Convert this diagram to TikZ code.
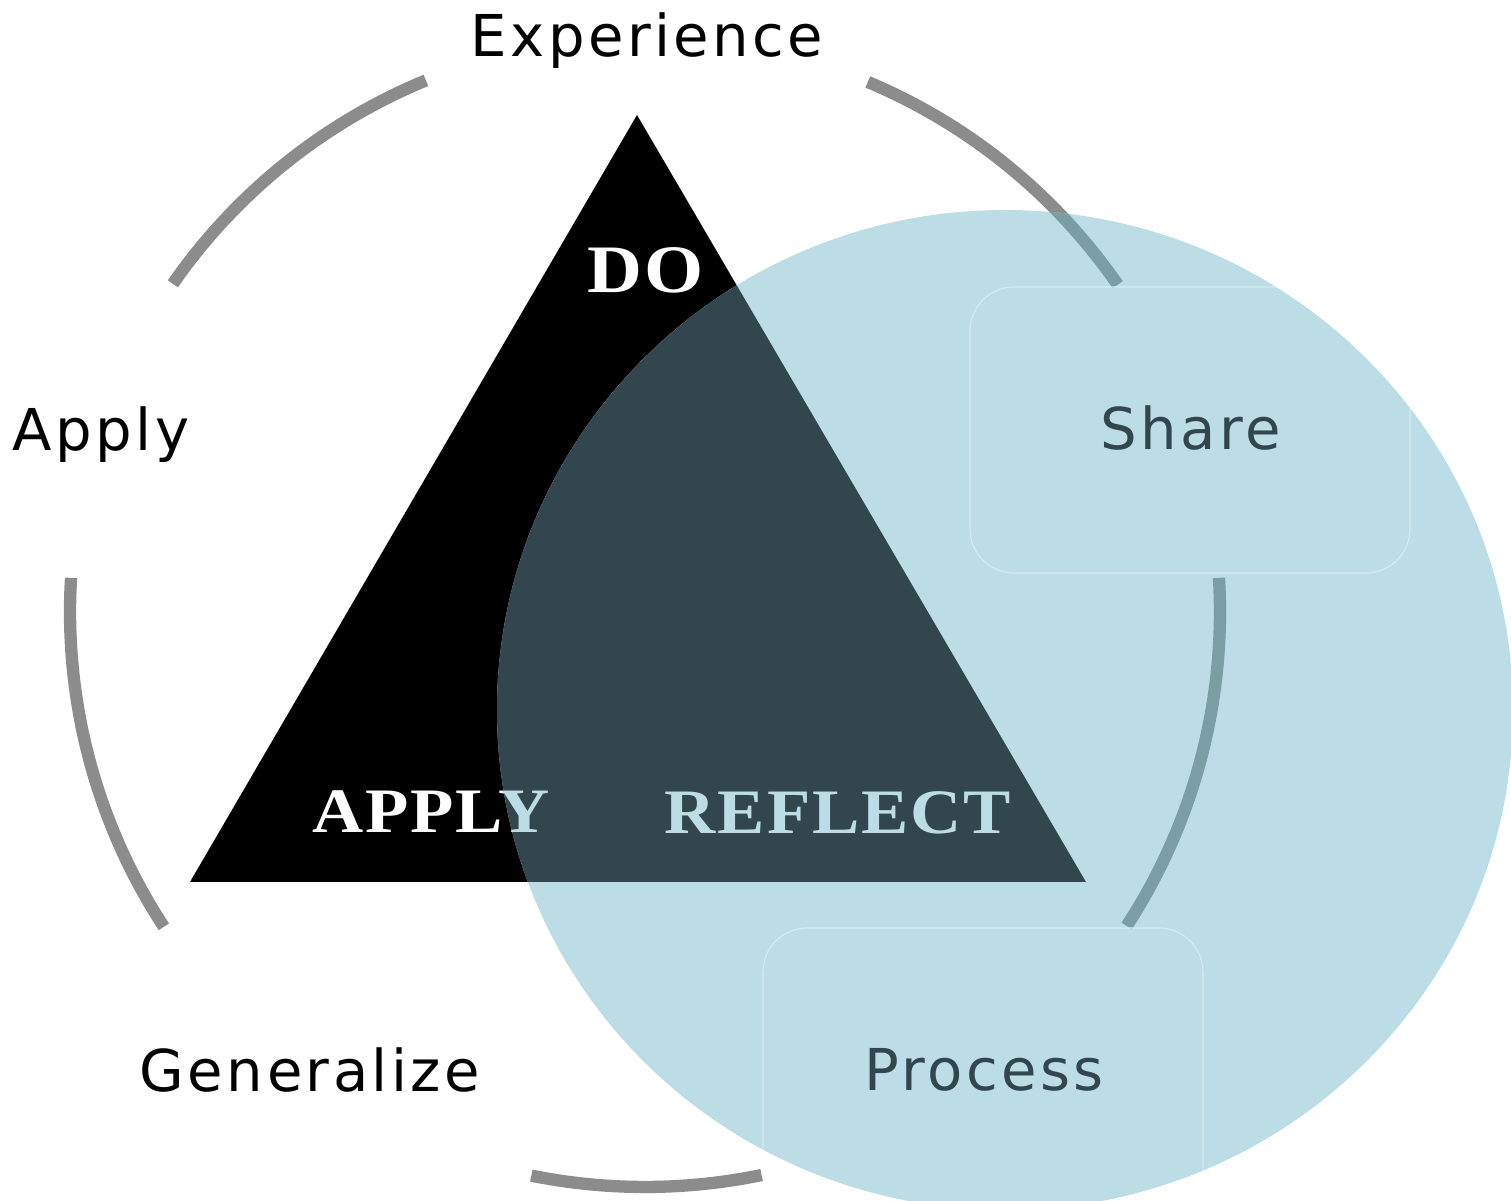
\documentclass[tikz,border=0pt]{standalone}
\usepackage{fontspec}
\setmainfont{DejaVu Sans}
\newfontfamily\stagefont[LetterSpace=6]{DejaVu Sans}
\newfontfamily\verbfont[FakeStretch=1.12,LetterSpace=3]{Liberation Serif}

\definecolor{arcgray}{HTML}{8C8C8C}
\definecolor{arcblue}{HTML}{7A9EA3}
\definecolor{lensblue}{HTML}{BCDDE5}
\definecolor{lensdark}{HTML}{31474D}
\definecolor{framewhite}{HTML}{D6EBF1}

\tikzset{
  ringarc/.style={line width=3.5pt},
  stage/.style={anchor=base, font=\stagefont\fontsize{16.4}{18}\selectfont},
  verb/.style={anchor=base, font=\verbfont\bfseries\fontsize{18}{20}\selectfont},
  frame/.style={draw=framewhite, line width=0.3pt, rounded corners=12.5pt}
}

\begin{document}
\begin{tikzpicture}[x=0.01cm, y=-0.01cm]
\useasboundingbox (0,0) rectangle (1511,1201);

\coordinate (ring) at (645,612);
\coordinate (lens) at (1005,710);
\coordinate (top) at (637,115);
\coordinate (left) at (190,882);
\coordinate (right) at (1086,882);

% cycle of five arcs
\newcommand{\cyclearcs}[1]{%
  \foreach \a/\b in {214.8/247.6, 292.8/325.3, -3.4/33.1, 78.3/101.4, 146.8/183.4}
    \draw[ringarc, #1] (ring) ++(\a:575) arc[start angle=\a, end angle=\b, radius=575];
}
\cyclearcs{arcgray}

% triangle
\fill[black] (top) -- (left) -- (right) -- cycle;

\node[stage] (experience) at (647,57) {Experience};
\node[stage] (apply) at (101,451) {Apply};
\node[stage] (generalize) at (310,1092) {Generalize};

\node[verb, text=white, font=\verbfont\bfseries\fontsize{19.3}{21}\selectfont] (do) at (646,293) {DO};
\node[verb, text=white] (applyverb) at (431,833) {APPLY};

% the lens on top
\fill[lensblue] (lens) ellipse[x radius=508, y radius=500];
\begin{scope}
  \clip (lens) ellipse[x radius=508, y radius=500];
  \fill[lensdark] (top) -- (left) -- (right) -- cycle;
  \cyclearcs{arcblue}
  \node[verb, text=lensblue] at (applyverb.base) {APPLY};
  \node[verb, text=lensblue] (reflect) at (838,834) {REFLECT};
  \draw[frame] (970,287) rectangle (1410,573);
  \draw[frame] (763,928) rectangle (1203,1214);
  \node[stage, text=lensdark] (share) at (1191,450) {Share};
  \node[stage, text=lensdark] (process) at (984,1091) {Process};
\end{scope}
\end{tikzpicture}
\end{document}
